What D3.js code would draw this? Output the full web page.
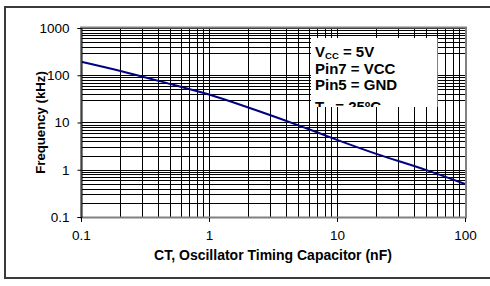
<!DOCTYPE html>
<html>
<head>
<meta charset="utf-8">
<script src="https://cdn.jsdelivr.net/npm/d3@7"></script>
<style>
  body { margin: 0; background: #fff; }
  text { font-family: "Liberation Sans", Arial, sans-serif; }
</style>
</head>
<body>
<svg id="chart" width="490" height="286"></svg>
<script>
// capacitance (nF) vs oscillator frequency (kHz)
var capValues = [0.1, 0.2, 0.5, 1, 2, 5, 10, 20, 50, 100];
var freqValues = [194, 125, 65, 39, 21, 8.7, 4.3, 2.2, 0.98, 0.5];

var xTickLabels = ["0.1", "1", "10", "100"];
var yTickLabels = ["0.1", "1", "10", "100", "1000"];
var noteLines = [
    ["V", "CC", " = 5V"],
    ["Pin7 = VCC"],
    ["Pin5 = GND"],
    ["T", "A", " = 25ºC"]
];

var svg = d3.select("#chart");

var plot = { left: 81, top: 28, right: 465, bottom: 217 };

var x = d3.scaleLog().domain([0.1, 100]).range([plot.left, plot.right]);
var y = d3.scaleLog().domain([0.1, 1000]).range([plot.bottom, plot.top]);

// outer frame
svg.append("rect")
    .attr("x", 5).attr("y", 7)
    .attr("width", 500).attr("height", 271)
    .attr("fill", "none")
    .attr("stroke", "#3a3a3a")
    .attr("stroke-width", 2);

// grid lines (all log minors)
function minors(domain) {
    var out = [];
    for (var e = Math.log10(domain[0]); e < Math.log10(domain[1]) - 1e-9; e++) {
        for (var k = 1; k < 10; k++) out.push(k * Math.pow(10, e));
    }
    out.push(domain[1]);
    return out;
}

var grid = svg.append("g");

grid.selectAll("line.v")
    .data(minors(x.domain()))
    .enter().append("line")
    .attr("x1", function(d) { return Math.round(x(d)) + 0.5; })
    .attr("x2", function(d) { return Math.round(x(d)) + 0.5; })
    .attr("y1", plot.top).attr("y2", plot.bottom)
    .attr("stroke", "#000").attr("stroke-width", 1);

grid.selectAll("line.h")
    .data(minors(y.domain()).filter(function(d) { return d !== 200 && d !== 20; }))
    .enter().append("line")
    .attr("y1", function(d) { return Math.round(y(d)) + 0.5; })
    .attr("y2", function(d) { return Math.round(y(d)) + 0.5; })
    .attr("x1", plot.left).attr("x2", plot.right)
    .attr("stroke", "#000").attr("stroke-width", 1);

// data line
var line = d3.line()
    .x(function(d, i) { return x(capValues[i]); })
    .y(function(d) { return y(d); })
    .curve(d3.curveMonotoneX);

svg.append("path")
    .datum(freqValues)
    .attr("d", line)
    .attr("fill", "none")
    .attr("stroke", "#000080")
    .attr("stroke-width", 2);

// note box
var box = { x: 311, y: 38, w: 126.5, h: 69 };
svg.append("clipPath").attr("id", "noteclip")
    .append("rect")
    .attr("x", box.x).attr("y", box.y)
    .attr("width", box.w).attr("height", box.h);

svg.append("rect")
    .attr("x", box.x).attr("y", box.y)
    .attr("width", box.w).attr("height", box.h)
    .attr("fill", "#fff");

var note = svg.append("g").attr("clip-path", "url(#noteclip)");
var lineY = [56.5, 73.5, 90, 111.5];

noteLines.forEach(function(parts, i) {
    var t = note.append("text")
        .attr("x", box.x + 4)
        .attr("y", lineY[i])
        .attr("font-size", 15)
        .attr("font-weight", "bold")
        .attr("fill", "#000");
    if (parts.length === 1) {
        t.text(parts[0]);
    } else {
        t.append("tspan").text(parts[0]);
        t.append("tspan").attr("font-size", 9.5).attr("dy", 2.5).text(parts[1]);
        t.append("tspan").attr("dy", -2.5).text(parts[2]);
    }
});

// plot area border
svg.append("rect")
    .attr("x", plot.left).attr("y", plot.top - 0.5)
    .attr("width", plot.right - plot.left + 1)
    .attr("height", plot.bottom - plot.top + 1)
    .attr("fill", "none")
    .attr("stroke", "#808080")
    .attr("stroke-width", 2);

// axes
var yAxis = d3.axisLeft(y)
    .tickValues(yTickLabels.map(Number))
    .tickFormat(function(d, i) { return yTickLabels[i]; })
    .tickSize(4).tickPadding(8);

var xAxis = d3.axisBottom(x)
    .tickValues(xTickLabels.map(Number))
    .tickFormat(function(d, i) { return xTickLabels[i]; })
    .tickSize(4).tickPadding(8);

var gy = svg.append("g")
    .attr("transform", "translate(" + (plot.left + 0.5) + ",0)")
    .call(yAxis);

var gx = svg.append("g")
    .attr("transform", "translate(0," + (plot.bottom + 1) + ")")
    .call(xAxis);

[gx, gy].forEach(function(g) {
    g.select(".domain").attr("stroke", "#000");
    g.selectAll(".tick line").attr("stroke", "#000");
    g.selectAll(".tick text")
        .attr("font-family", "Liberation Sans, Arial, sans-serif")
        .attr("font-size", 13.5)
        .attr("fill", "#000");
});
gx.select(".domain").remove();

// axis titles
svg.append("text")
    .attr("x", (plot.left + plot.right) / 2)
    .attr("y", 260)
    .attr("text-anchor", "middle")
    .attr("font-size", 14)
    .attr("font-weight", "bold")
    .text("CT, Oscillator Timing Capacitor (nF)");

svg.append("text")
    .attr("transform", "translate(45," + (plot.top + plot.bottom) / 2 + ") rotate(-90)")
    .attr("text-anchor", "middle")
    .attr("font-size", 13.2)
    .attr("font-weight", "bold")
    .text("Frequency (kHz)");
</script>
</body>
</html>
